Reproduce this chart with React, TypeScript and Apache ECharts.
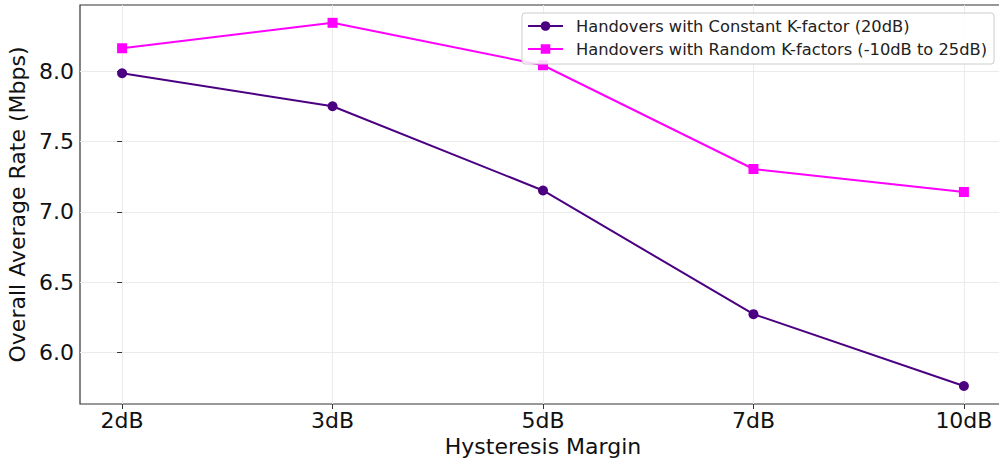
import React, { useEffect, useRef } from "react";
import * as echarts from "echarts";

const categories = ["2dB", "3dB", "5dB", "7dB", "10dB"];
const constantK = [7.988, 7.753, 7.153, 6.272, 5.76];
const randomK = [8.166, 8.347, 8.045, 7.306, 7.142];
const yTicks = [6.0, 6.5, 7.0, 7.5, 8.0];
const xTicks = [0, 1, 2, 3, 4];

const FONT = "DejaVu Sans";

export default function App() {
  const ref = useRef<HTMLDivElement>(null);
  useEffect(() => {
    document.body.style.margin = "0";
    document.body.style.overflow = "hidden";
    document.documentElement.style.overflow = "hidden";
    const chart = echarts.init(ref.current!, null, { renderer: "svg" });
    const gridLines = {
      silent: true,
      symbol: "none",
      label: { show: false },
      lineStyle: { color: "#ebebeb", width: 1, type: "solid" },
      emphasis: { disabled: true },
      data: [
        ...yTicks.map((v) => ({ yAxis: v })),
        ...xTicks.map((v) => ({ xAxis: v })),
      ],
      z: 0,
    };
    chart.setOption({
      animation: false,
      backgroundColor: "#ffffff",
      textStyle: { fontFamily: FONT },
      grid: {
        left: 80,
        top: 5,
        width: 926,
        height: 399,
        outerBoundsMode: "none",
        containLabel: false,
        show: true,
        borderColor: "#333333",
        borderWidth: 1.2,
        backgroundColor: "transparent",
      },
      legend: {
        orient: "vertical",
        left: 522,
        top: 13,
        padding: [5, 7, 7, 5],
        itemGap: 7,
        itemWidth: 35,
        itemHeight: 12,
        backgroundColor: "rgba(255,255,255,0.85)",
        borderColor: "#cccccc",
        borderWidth: 1,
        borderRadius: 3,
        textStyle: {
          fontFamily: FONT,
          fontSize: 16.3,
          color: "#222222",
          padding: [0, 0, 0, 8],
        },
        data: [
          "Handovers with Constant K-factor (20dB)",
          "Handovers with Random K-factors (-10dB to 25dB)",
        ],
      },
      xAxis: {
        type: "value",
        min: -0.2,
        max: 4.2,
        name: "Hysteresis Margin",
        nameLocation: "middle",
        nameGap: 30,
        nameTextStyle: { fontFamily: FONT, fontSize: 22, color: "#111111" },
        axisLine: { show: false },
        axisTick: {
          show: true,
          length: 5,
          customValues: xTicks,
          lineStyle: { color: "#333333" },
        },
        axisLabel: {
          customValues: xTicks,
          formatter: (v: number) => categories[Math.round(v)] ?? "",
          fontFamily: FONT,
          fontSize: 22,
          color: "#111111",
          margin: 5,
        },
        splitLine: { show: false },
      },
      yAxis: {
        type: "value",
        min: 5.632,
        max: 8.474,
        name: "Overall Average Rate (Mbps)",
        nameLocation: "middle",
        nameGap: 45,
        nameTextStyle: { fontFamily: FONT, fontSize: 22, color: "#111111" },
        axisLine: { show: false },
        axisTick: {
          show: true,
          length: 5,
          customValues: yTicks,
          lineStyle: { color: "#333333" },
        },
        axisLabel: {
          customValues: yTicks,
          formatter: (v: number) => v.toFixed(1),
          fontFamily: FONT,
          fontSize: 22,
          color: "#111111",
          margin: 6,
        },
        splitLine: { show: false },
      },
      series: [
        {
          name: "Handovers with Constant K-factor (20dB)",
          type: "line",
          data: constantK.map((v, i) => [i, v]),
          symbol: "circle",
          symbolSize: 10,
          color: "#4b0082",
          lineStyle: { width: 2, color: "#4b0082" },
          itemStyle: { color: "#4b0082" },
          markLine: gridLines,
          z: 3,
        },
        {
          name: "Handovers with Random K-factors (-10dB to 25dB)",
          type: "line",
          data: randomK.map((v, i) => [i, v]),
          symbol: "rect",
          symbolSize: 10,
          color: "#ff00ff",
          lineStyle: { width: 2, color: "#ff00ff" },
          itemStyle: { color: "#ff00ff" },
          z: 3,
        },
      ],
    });
    return () => chart.dispose();
  }, []);
  return (
    <div
      style={{
        position: "fixed",
        left: 0,
        top: 0,
        width: 999,
        height: 458,
        overflow: "hidden",
      }}
    >
      <div ref={ref} style={{ width: 1012, height: 458 }} />
    </div>
  );
}
